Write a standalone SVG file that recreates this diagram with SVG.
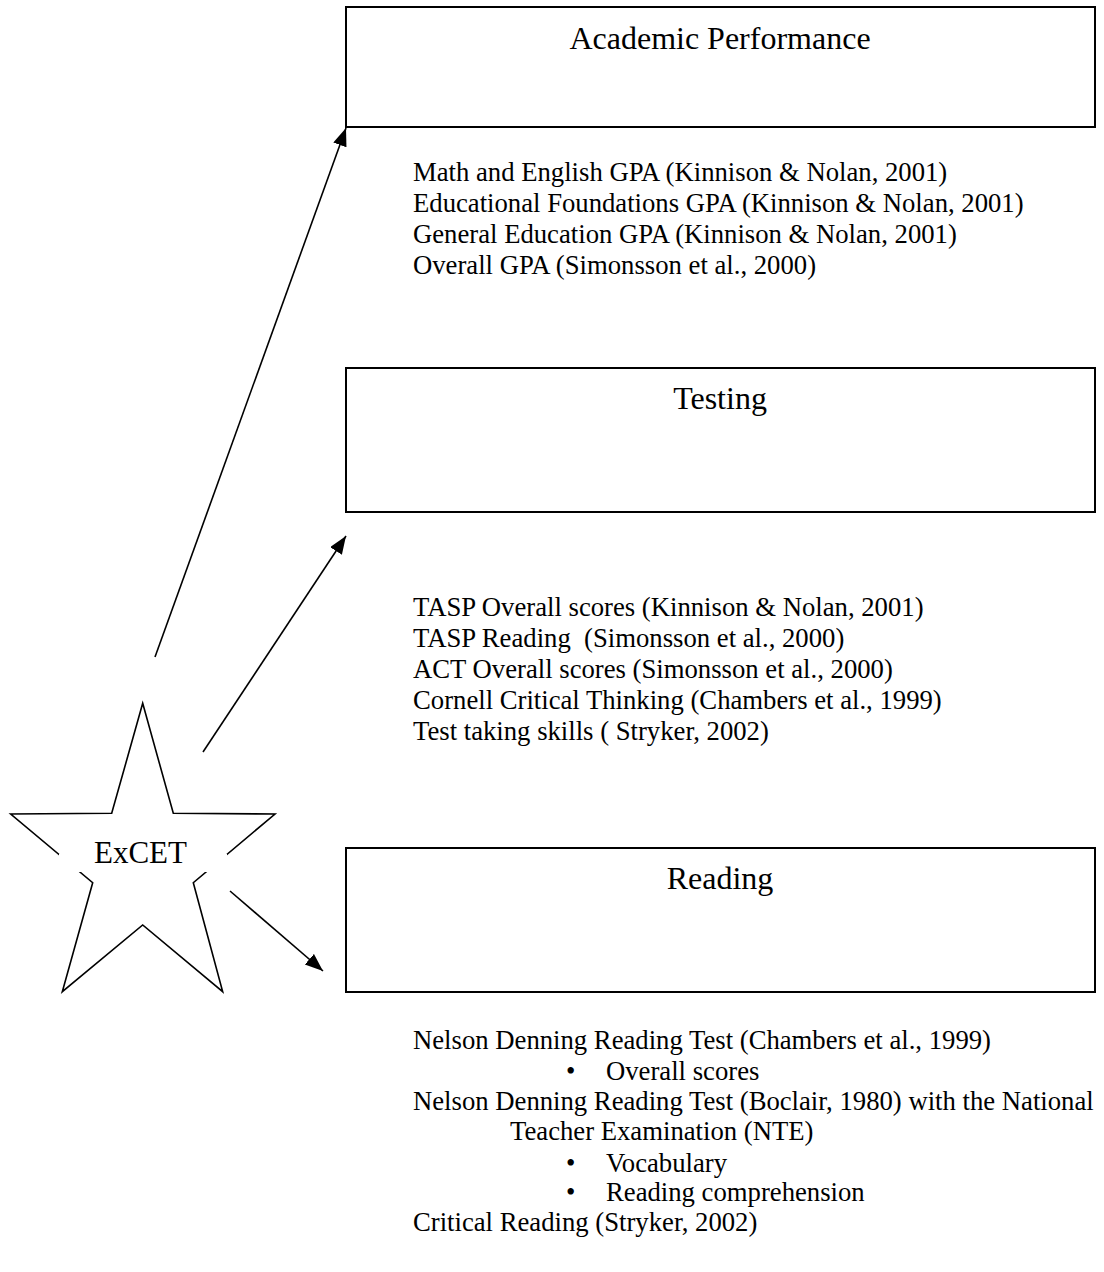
<svg xmlns="http://www.w3.org/2000/svg" width="1104" height="1272" viewBox="0 0 1104 1272">
<style>
.box{fill:#fff;stroke:#000;stroke-width:2}
.t{font-family:"Liberation Serif","Times New Roman",serif;fill:#000}
.title{font-size:32px;text-anchor:middle}
.body{font-size:26.7px}
.conn{stroke:#000;stroke-width:1.6;fill:none}
</style>
<defs>
<marker id="ah" markerUnits="userSpaceOnUse" markerWidth="19" markerHeight="15" refX="18" refY="7" orient="auto">
<path d="M0,0 L18,7 L0,14 z" fill="#000"/>
</marker>
</defs>
<rect width="1104" height="1272" fill="#fff"/>
<g id="connectors">
<line class="conn" x1="155" y1="657" x2="346" y2="128" marker-end="url(#ah)"/>
<line class="conn" x1="203" y1="752" x2="346" y2="536" marker-end="url(#ah)"/>
<line class="conn" x1="230" y1="891" x2="323" y2="971" marker-end="url(#ah)"/>
</g>
<g id="node-academic">
<rect class="box" x="346" y="7" width="749" height="120"/>
<text class="t title" x="720" y="49">Academic Performance</text>
</g>
<g id="text-academic">
<text class="t body" x="413" y="181">Math and English GPA (Kinnison &amp; Nolan, 2001)</text>
<text class="t body" x="413" y="212">Educational Foundations GPA (Kinnison &amp; Nolan, 2001)</text>
<text class="t body" x="413" y="243">General Education GPA (Kinnison &amp; Nolan, 2001)</text>
<text class="t body" x="413" y="274">Overall GPA (Simonsson et al., 2000)</text>
</g>
<g id="node-testing">
<rect class="box" x="346" y="368" width="749" height="144"/>
<text class="t title" x="720" y="409">Testing</text>
</g>
<g id="text-testing">
<text class="t body" x="413" y="616">TASP Overall scores (Kinnison &amp; Nolan, 2001)</text>
<text class="t body" x="413" y="647" xml:space="preserve">TASP Reading  (Simonsson et al., 2000)</text>
<text class="t body" x="413" y="678">ACT Overall scores (Simonsson et al., 2000)</text>
<text class="t body" x="413" y="709">Cornell Critical Thinking (Chambers et al., 1999)</text>
<text class="t body" x="413" y="740">Test taking skills ( Stryker, 2002)</text>
</g>
<g id="node-excet">
<polygon points="142.7,703.3 173.3,813.3 275,814 193.3,882.7 222.7,991.7 142.7,925 62.3,991.7 92.7,882.7 10.7,814 111.7,813.3" fill="#fff" stroke="#000" stroke-width="1.6" stroke-linejoin="miter"/>
<rect x="59" y="854" width="168" height="18" fill="#fff"/>
<text class="t" x="140.5" y="863" font-size="31" text-anchor="middle">ExCET</text>
</g>
<g id="node-reading">
<rect class="box" x="346" y="848" width="749" height="144"/>
<text class="t title" x="720" y="889">Reading</text>
</g>
<g id="text-reading">
<text class="t body" x="413" y="1049">Nelson Denning Reading Test (Chambers et al., 1999)</text>
<text class="t body" x="566" y="1080">•</text>
<text class="t body" x="606" y="1080">Overall scores</text>
<text class="t body" x="413" y="1110">Nelson Denning Reading Test (Boclair, 1980) with the National</text>
<text class="t body" x="510" y="1140">Teacher Examination (NTE)</text>
<text class="t body" x="566" y="1172">•</text>
<text class="t body" x="606" y="1172">Vocabulary</text>
<text class="t body" x="566" y="1201">•</text>
<text class="t body" x="606" y="1201">Reading comprehension</text>
<text class="t body" x="413" y="1231">Critical Reading (Stryker, 2002)</text>
</g>
</svg>
